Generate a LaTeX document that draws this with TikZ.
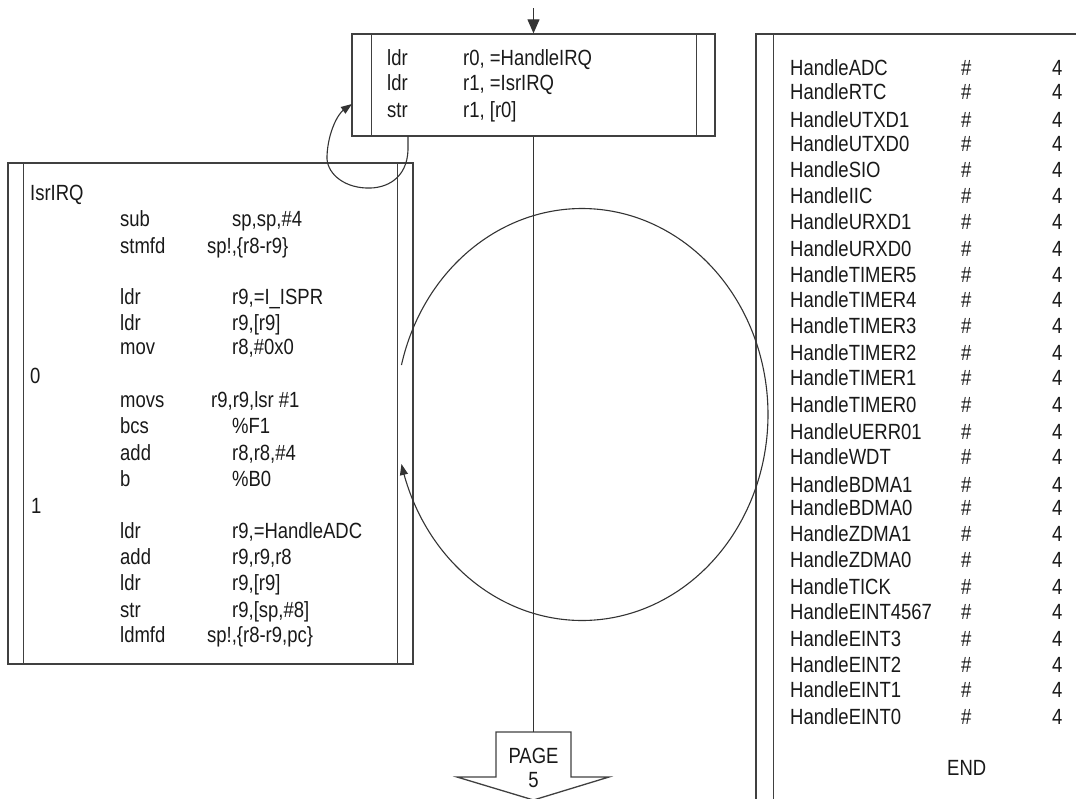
\documentclass[tikz,border=0pt]{standalone}
\usepackage{fontspec}
\newfontfamily\codefont[FakeStretch=0.84]{Liberation Sans}
\usetikzlibrary{arrows.meta}
\tikzset{
  boxst/.style={draw=black!75, line width=1.3pt, inner sep=0pt, fill=none},
  boxline/.style={draw=black!75, line width=1.3pt},
  conn/.style={draw=black!80, line width=1.1pt},
  tip/.style={-{Triangle[width=8pt,length=11pt]}},
  bigtip/.style={-{Triangle[width=12pt,length=14pt]}},
  tx/.style={anchor=base west, inner sep=0pt, text=black!90, font=\codefont\fontsize{22}{26}\selectfont},
}
\begin{document}
\begin{tikzpicture}[x=1pt,y=-1pt]
\useasboundingbox (0,0) rectangle (1076,798);
\clip (0,0) rectangle (1076,798);

% ---------- top box ----------
\node[boxst, minimum width=363pt, minimum height=102pt] (topbox) at (533.5,85) {};
\draw[boxline] ([xshift=20pt]topbox.north west) -- ([xshift=20pt]topbox.south west);
\draw[boxline] ([xshift=-19pt]topbox.north east) -- ([xshift=-19pt]topbox.south east);
\node[tx] (ta1) at (387,65) {ldr};
\node[tx] (tb1) at (463,65) {r0, =HandleIRQ};
\node[tx] (ta2) at (387,90) {ldr};
\node[tx] (tb2) at (463,90) {r1, =IsrIRQ};
\node[tx] (ta3) at (387,117) {str};
\node[tx] (tb3) at (463,117) {r1, [r0]};

% ---------- left box ----------
\node[boxst, minimum width=405pt, minimum height=501pt] (leftbox) at (210.5,413.5) {};
\draw[boxline] ([xshift=16pt]leftbox.north west) -- ([xshift=16pt]leftbox.south west);
\draw[boxline] ([xshift=-16pt]leftbox.north east) -- ([xshift=-16pt]leftbox.south east);
\node[tx] (lisr) at (30,200) {IsrIRQ};
\node[tx] (l0) at (30,383) {0};
\node[tx] (l1) at (31,513) {1};
\foreach \m/\o/\ox/\y [count=\i] in {
  sub/{sp,sp,\#4}/232/226,
  stmfd/{sp!,\{r8-r9\}}/207/253,
  ldr/{r9,=I\_ISPR}/232/304,
  ldr/{r9,[r9]}/232/330,
  mov/{r8,\#0x0}/232/354,
  movs/{r9,r9,lsr \#1}/211/407,
  bcs/{\%F1}/232/433,
  add/{r8,r8,\#4}/232/460,
  b/{\%B0}/232/486,
  ldr/{r9,=HandleADC}/232/538,
  add/{r9,r9,r8}/232/564,
  ldr/{r9,[r9]}/232/590,
  str/{r9,[sp,\#8]}/232/617,
  ldmfd/{sp!,\{r8-r9,pc\}}/207/642}
{
  \node[tx] (lm\i) at (120,\y) {\m};
  \node[tx] (lo\i) at (\ox,\y) {\o};
}

% ---------- right box ----------
\node[boxst, minimum width=354pt, minimum height=796pt] (rightbox) at (933,432) {};
\draw[boxline] ([xshift=18pt]rightbox.north west) -- ([xshift=18pt]rightbox.south west);
\foreach \n/\y [count=\i] in {ADC/75, RTC/99, UTXD1/127, UTXD0/151, SIO/177, IIC/203,
  URXD1/229, URXD0/256, TIMER5/282, TIMER4/307, TIMER3/333, TIMER2/360, TIMER1/385,
  TIMER0/412, UERR01/439, WDT/464, BDMA1/492, BDMA0/515, ZDMA1/541, ZDMA0/567,
  TICK/594, EINT4567/619, EINT3/646, EINT2/672, EINT1/697, EINT0/724}
{
  \node[tx] (hn\i) at (790,\y) {Handle\n};
  \node[tx] (hh\i) at (961,\y) {\#};
  \node[tx] (hv\i) at (1052,\y) {4};
}
\node[tx] (hend) at (947,775) {END};

% ---------- page connector ----------
\coordinate (pagetop) at (533.5,732);
\draw[boxline] (496,732) -- (571,732) -- (571,777) -- (609,777) -- (533.5,800) -- (457,777) -- (496,777) -- cycle;
\node[tx, anchor=base] (pg) at (533.5,763) {PAGE};
\node[tx, anchor=base] (pg5) at (533.5,787) {5};

% ---------- connectors ----------
\coordinate (topin) at (533.5,8);
\draw[conn, bigtip] (topin) -- (topbox.north);
\draw[conn] (topbox.south) -- (pagetop);

% small loop back into top box
\coordinate (ls) at (408,136);
\coordinate (ltip) at (352,104);
\draw[conn, tip] (ls) -- (408,150) .. controls (407,178) and (387,189) .. (366,188)
  .. controls (342,187) and (326,172) .. (327,156)
  .. controls (328,132) and (338,114) .. (ltip);

% big loop
\coordinate (cs) at (402,365);
\coordinate (ce) at (402,463);
\draw[conn, tip] plot[domain=193.9:526.1, samples=160, smooth] ({582+186*cos(\x)},{414.5+206*sin(\x)});
\end{tikzpicture}
\end{document}
